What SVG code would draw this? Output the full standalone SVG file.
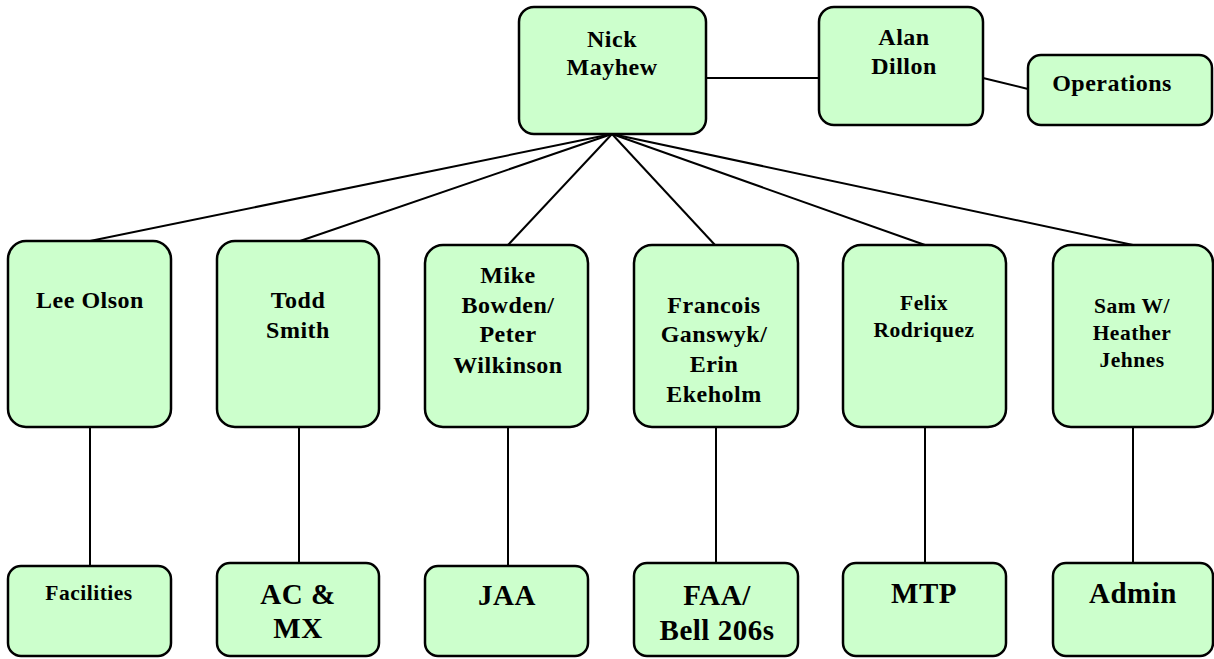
<svg xmlns="http://www.w3.org/2000/svg" width="1214" height="659" viewBox="0 0 1214 659">
<style>
.box{fill:#CCFFCC;stroke:#000;stroke-width:2.5}
.ln{stroke:#000;stroke-width:2;fill:none}
text{font-family:"Liberation Serif","Times New Roman",serif;font-weight:bold;fill:#000;text-anchor:middle;letter-spacing:0.5px}
.t24{font-size:24px}
.t22{font-size:21.5px}
.t29{font-size:29px}
</style>
<rect width="1214" height="659" fill="#fff"/>
<g id="connectors">
<line class="ln" x1="706" y1="78" x2="819" y2="78"/>
<line class="ln" x1="983" y1="78" x2="1028" y2="89"/>
<line class="ln" x1="612" y1="134" x2="90" y2="241"/>
<line class="ln" x1="612" y1="134" x2="300" y2="241"/>
<line class="ln" x1="612" y1="134" x2="508" y2="245"/>
<line class="ln" x1="612" y1="134" x2="715" y2="245"/>
<line class="ln" x1="612" y1="134" x2="925" y2="245"/>
<line class="ln" x1="612" y1="134" x2="1133" y2="245"/>
<line class="ln" x1="90" y1="427" x2="90" y2="566"/>
<line class="ln" x1="299" y1="427" x2="299" y2="563"/>
<line class="ln" x1="508" y1="427" x2="508" y2="566"/>
<line class="ln" x1="716" y1="427" x2="716" y2="563"/>
<line class="ln" x1="925" y1="427" x2="925" y2="563"/>
<line class="ln" x1="1133" y1="427" x2="1133" y2="563"/>
</g>
<g id="nick">
<rect class="box" x="519" y="7" width="187" height="127" rx="15"/>
<text class="t24" x="612" y="47">Nick</text>
<text class="t24" x="612" y="75">Mayhew</text>
</g>
<g id="alan">
<rect class="box" x="819" y="7" width="164" height="118" rx="15"/>
<text class="t24" x="904" y="45">Alan</text>
<text class="t24" x="904" y="74">Dillon</text>
</g>
<g id="operations">
<rect class="box" x="1028" y="55" width="184" height="70" rx="13"/>
<text class="t24" x="1112" y="91">Operations</text>
</g>
<g id="lee">
<rect class="box" x="8" y="241" width="163" height="186" rx="18"/>
<text class="t24" x="90" y="308">Lee Olson</text>
</g>
<g id="todd">
<rect class="box" x="217" y="241" width="162" height="186" rx="18"/>
<text class="t24" x="298" y="308">Todd</text>
<text class="t24" x="298" y="338">Smith</text>
</g>
<g id="mike">
<rect class="box" x="425" y="245" width="163" height="182" rx="18"/>
<text class="t24" x="508" y="283">Mike</text>
<text class="t24" x="508" y="313">Bowden/</text>
<text class="t24" x="508" y="342">Peter</text>
<text class="t24" x="508" y="373">Wilkinson</text>
</g>
<g id="francois">
<rect class="box" x="634" y="245" width="164" height="182" rx="18"/>
<text class="t24" x="714" y="313">Francois</text>
<text class="t24" x="714" y="342">Ganswyk/</text>
<text class="t24" x="714" y="372">Erin</text>
<text class="t24" x="714" y="402">Ekeholm</text>
</g>
<g id="felix">
<rect class="box" x="843" y="245" width="163" height="182" rx="18"/>
<text class="t22" x="924" y="310">Felix</text>
<text class="t22" x="924" y="337">Rodriquez</text>
</g>
<g id="sam">
<rect class="box" x="1053" y="245" width="160" height="182" rx="18"/>
<text class="t22" x="1132" y="313">Sam W/</text>
<text class="t22" x="1132" y="340">Heather</text>
<text class="t22" x="1132" y="367">Jehnes</text>
</g>
<g id="facilities">
<rect class="box" x="8" y="566" width="163" height="90" rx="13"/>
<text class="t22" x="89" y="600">Facilities</text>
</g>
<g id="acmx">
<rect class="box" x="217" y="563" width="162" height="93" rx="13"/>
<text class="t29" x="298" y="604">AC &amp;</text>
<text class="t29" x="298" y="638">MX</text>
</g>
<g id="jaa">
<rect class="box" x="425" y="566" width="163" height="90" rx="13"/>
<text class="t29" x="507" y="605">JAA</text>
</g>
<g id="faa">
<rect class="box" x="634" y="563" width="164" height="93" rx="13"/>
<text class="t29" x="717" y="605">FAA/</text>
<text class="t29" x="717" y="640">Bell 206s</text>
</g>
<g id="mtp">
<rect class="box" x="843" y="563" width="163" height="93" rx="13"/>
<text class="t29" x="924" y="603">MTP</text>
</g>
<g id="admin">
<rect class="box" x="1053" y="563" width="160" height="93" rx="13"/>
<text class="t29" x="1133" y="603">Admin</text>
</g>
</svg>
